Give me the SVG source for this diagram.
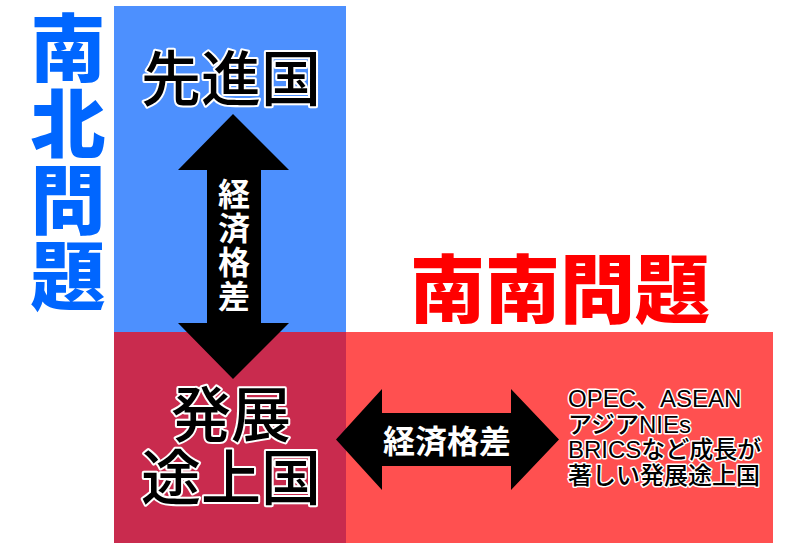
<svg xmlns="http://www.w3.org/2000/svg" width="800" height="548" viewBox="0 0 800 548">
<style>
.jp{font-family:"Noto Sans CJK JP","Noto Sans CJK SC",sans-serif}
.title{font-weight:900;font-size:75px}
.vert{writing-mode:vertical-rl;text-orientation:upright}
.node{font-size:60px;font-weight:500;fill:#000;stroke:#fff;stroke-width:4;paint-order:stroke;stroke-linejoin:round}
.lbl{font-weight:bold;font-size:32px;fill:#fff}
.note{font-family:"Liberation Sans","Noto Sans CJK JP",sans-serif;font-size:24px;font-weight:500;fill:#000;stroke:#fff;stroke-width:3;paint-order:stroke;stroke-linejoin:round}
.arrow{fill:#000}
</style>
<rect width="800" height="548" fill="#fff"/>
<g id="developed">
<rect x="114" y="6" width="232" height="326" fill="#4d90fe"/>
<text class="jp node" x="231" y="101" text-anchor="middle">先進国</text>
</g>
<g id="developing">
<rect x="114" y="332" width="232" height="211" fill="#c92b4e"/>
<text class="jp node" x="231" y="437" text-anchor="middle">発展</text>
<text class="jp node" x="231" y="500" text-anchor="middle">途上国</text>
</g>
<g id="emerging">
<rect x="346" y="332" width="427" height="211" fill="#ff5050"/>
<text class="note" x="568" y="407">OPEC、ASEAN</text>
<text class="note" x="568" y="432.5">アジアNIEs</text>
<text class="note" x="568" y="458">BRICSなど成長が</text>
<text class="note" x="568" y="484">著しい発展途上国</text>
</g>
<g id="north-south">
<text class="jp title vert" fill="#0066ff" x="68" y="10" letter-spacing="1">南北問題</text>
</g>
<g id="south-south">
<text class="jp title" fill="#ff0000" x="410" y="317">南南問題</text>
</g>
<g id="connectors">
<g id="vertical-gap">
<polygon class="arrow" points="233,114 289,170 261,170 261,323 289,323 233,379 178,323 207,323 207,170 178,170"/>
<text class="jp lbl vert" x="234" y="178" letter-spacing="2">経済格差</text>
</g>
<g id="horizontal-gap">
<polygon class="arrow" points="336,439.5 382,389 382,413 511,413 511,389 559,439.5 511,490 511,466 382,466 382,490"/>
<text class="jp lbl" x="447" y="453" text-anchor="middle" font-size="31">経済格差</text>
</g>
</g>
</svg>
